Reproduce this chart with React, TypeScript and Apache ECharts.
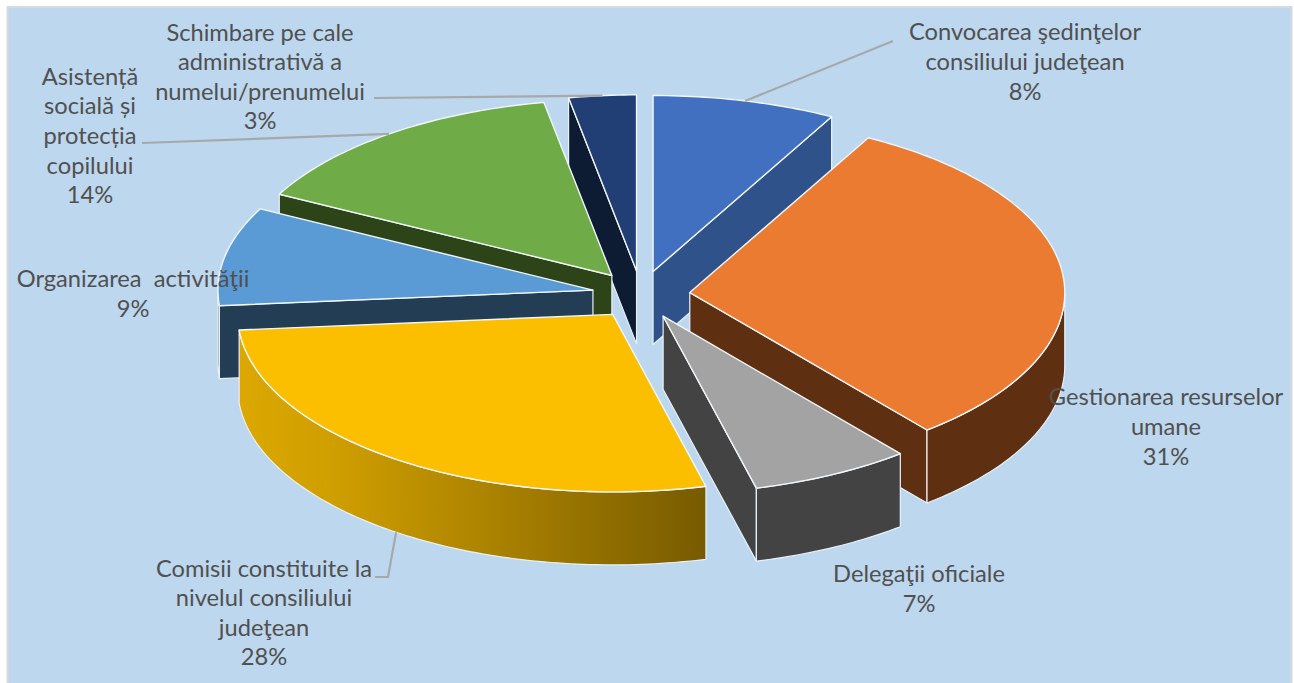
import React, { useEffect, useRef } from "react";
import * as echarts from "echarts";

// Slice data, clockwise from 12 o'clock. Labels round them.
const categories = [
  "Convocarea şedinţelor\nconsiliului judeţean",
  "Gestionarea resurselor\numane",
  "Delegaţii oficiale",
  "Comisii constituite la\nnivelul consiliului\njudeţean",
  "Organizarea  activităţii",
  "Asistență\nsocială și\nprotecția\ncopilului",
  "Schimbare pe cale\nadministrativă a\nnumelui/prenumelui",
];
const values = [7.9, 31.2, 6.9, 27.6, 9.04, 14.46, 2.9];
const topColors = ["#4270C0", "#EB7B31", "#A3A3A3", "#FBBF00", "#5B9BD5", "#6FAB47", "#223F75"];
const wallColors = ["#2F528A", "#5F2F12", "#434343", "", "#223D54", "#2D4419", "#0D1B33"];

// back-to-front painting order (indices into the arrays above)
const drawOrder = [6, 5, 0, 4, 1, 2, 3];
const labelCenters: number[][] = [
  [1025, 61], [1166, 426], [919, 588], [264, 612], [133, 293], [90, 135], [260, 76],
];
// leader elbows: from the label to the slice's edge at mid angle
const leaderStarts: (number[][] | null)[] = [
  [[893, 41]], null, null, [[375, 577], [388, 577]], null, [[142, 143]], [[374, 98]],
];

const CX = 641, CY = 294.8, EX = 49, EY = 24;
const RX = 375, RY_BACK = 176, RY_FRONT = 177.5, DEPTH = 73;
const EDGE = "#E9F1F8";
const TEXT = "#505050";

const total = values.reduce((a, b) => a + b, 0);
const rad = (d: number) => (d * Math.PI) / 180;
const slices = values.map((v, i) => {
  const before = values.slice(0, i).reduce((a, b) => a + b, 0);
  const start = (before / total) * 360;
  const end = ((before + v) / total) * 360;
  const mid = (start + end) / 2;
  return { start, end, mid, ax: CX + EX * Math.sin(rad(mid)), ay: CY - EY * Math.cos(rad(mid)) };
});
const rim = (s: { ax: number; ay: number }, deg: number, drop = 0) => {
  const c = Math.cos(rad(deg));
  return [s.ax + RX * Math.sin(rad(deg)), s.ay - (c > 0 ? RY_BACK : RY_FRONT) * c + drop];
};
const arc = (s: { ax: number; ay: number }, a: number, b: number, drop = 0) => {
  const n = Math.max(2, Math.ceil(Math.abs(b - a)));
  const pts: number[][] = [];
  for (let k = 0; k <= n; k++) pts.push(rim(s, a + ((b - a) * k) / n, drop));
  return pts;
};

function renderSlice(params: any) {
  const i = drawOrder[params.dataIndex];
  const s = slices[i];
  const children: any[] = [];
  const wall = (points: number[][], fill: any) =>
    children.push({ type: "polygon", shape: { points }, style: { fill, stroke: EDGE, lineWidth: 1.2, lineJoin: "round" } });
  const radialWall = (deg: number) => {
    const p = rim(s, deg);
    wall([[s.ax, s.ay], p, [p[0], p[1] + DEPTH], [s.ax, s.ay + DEPTH]], wallColors[i]);
  };
  if (Math.sin(rad(s.start)) < -1e-6) radialWall(s.start);
  if (Math.sin(rad(s.end)) > 1e-6) radialWall(s.end);
  const a = Math.max(s.start, 90), b = Math.min(s.end, 270);
  if (b > a) {
    const fill =
      i === 3
        ? new echarts.graphic.LinearGradient(0, 0, 1, 0, [
            { offset: 0, color: "#DCA800" },
            { offset: 0.2, color: "#CF9E00" },
            { offset: 0.5, color: "#B08600" },
            { offset: 1, color: "#775B00" },
          ])
        : wallColors[i];
    wall([...arc(s, a, b), ...arc(s, b, a, DEPTH)], fill);
  }
  children.push({
    type: "polygon",
    shape: { points: [[s.ax, s.ay], ...arc(s, s.start, s.end)] },
    style: { fill: topColors[i], stroke: "#F2F7FB", lineWidth: 1.4, lineJoin: "round" },
  });
  return { type: "group", children };
}

function renderLeader(params: any) {
  const i = params.dataIndex;
  const elbows = leaderStarts[i];
  if (!elbows) return { type: "group", children: [] };
  const s = slices[i];
  // the comisii leader touches the lower rim of the wall
  const end = rim(s, s.mid, Math.cos(rad(s.mid)) < 0 ? DEPTH : 0);
  return {
    type: "polyline",
    shape: { points: [...elbows, end] },
    style: { fill: "none", stroke: "#A6A9AC", lineWidth: 2.2 },
  };
}

export default function App() {
  const ref = useRef<HTMLDivElement>(null);
  useEffect(() => {
    document.body.style.margin = "0";
    const chart = echarts.init(ref.current!, null, { renderer: "svg" });
    chart.setOption({
      animation: false,
      backgroundColor: "#FFFFFF",
      graphic: [
        {
          type: "rect",
          z: 0,
          silent: true,
          shape: { x: 7.5, y: 7, width: 1284, height: 690 },
          style: { fill: "#BDD7EE", stroke: "#D9D9D9", lineWidth: 2 },
        },
        ...categories.map((name, i) => ({
          type: "text",
          z: 50,
          silent: true,
          x: labelCenters[i][0],
          y: labelCenters[i][1],
          style: {
            text: `${name}\n${Math.round(values[i])}%`,
            fill: TEXT,
            font: '23.7px Lato',
            lineHeight: 29.6,
            align: "center",
            verticalAlign: "middle",
          },
        })),
      ],
      series: [
        {
          type: "custom",
          coordinateSystem: "none",
          z: 5,
          silent: true,
          renderItem: renderSlice,
          data: drawOrder.map((i) => ({ value: values[i], name: categories[i] })),
        },
        {
          type: "custom",
          coordinateSystem: "none",
          z: 6,
          silent: true,
          renderItem: renderLeader,
          data: values,
        },
      ],
    });
    return () => chart.dispose();
  }, []);
  return <div ref={ref} style={{ position: "absolute", left: 0, top: 0, width: 1294, height: 683 }} />;
}
